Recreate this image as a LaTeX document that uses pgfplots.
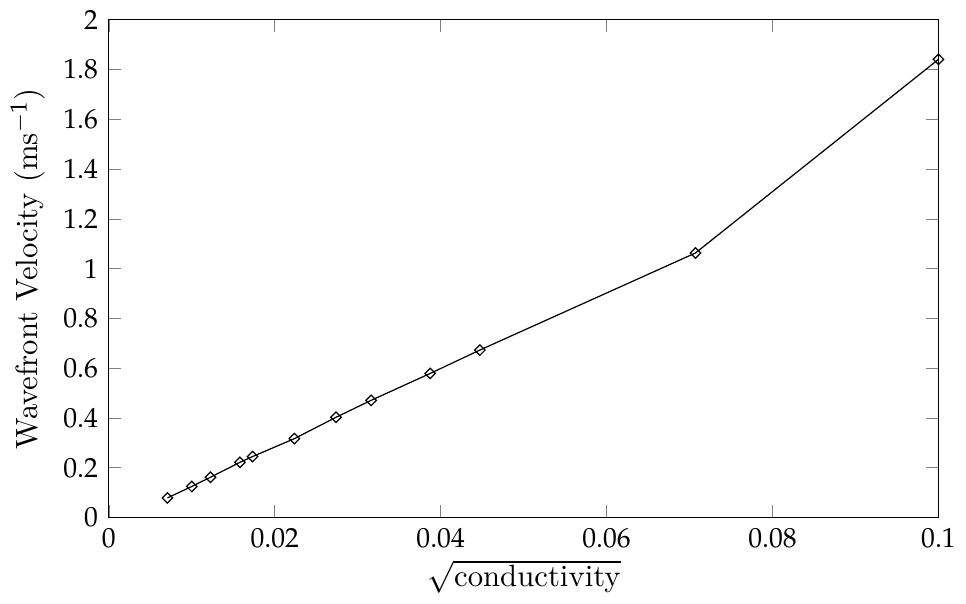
\documentclass[border=0pt]{standalone}
\usepackage{mathpazo}
\usepackage{pgfplots}
\pgfplotsset{compat=1.18}
\begin{document}
\begin{tikzpicture}
\begin{axis}[
  scale only axis,
  width=270pt, height=162pt,
  xmin=0, xmax=0.1, ymin=0, ymax=2,
  xtick={0,0.02,0.04,0.06,0.08,0.1},
  ytick={0,0.2,0.4,0.6,0.8,1,1.2,1.4,1.6,1.8,2},
  scaled x ticks=false,
  tick align=inside,
  major tick length=4pt,
  tick label style={font=\small},
  xticklabel style={/pgf/number format/fixed},
  yticklabel style={/pgf/number format/fixed},
  xlabel={$\sqrt{\mbox{conductivity}}$},
  ylabel={Wavefront Velocity (ms$^{-1}$)},
  xlabel style={yshift=3pt},
  ylabel style={yshift=-1pt},
  axis line style={black},
]
\addplot[black, mark=square, mark size=1.2pt, mark options={solid, rotate=45, fill=white}] coordinates {
(0.00707,0.079)
(0.0100,0.125)
(0.01225,0.162)
(0.0158,0.222)
(0.01732,0.245)
(0.02236,0.317)
(0.02739,0.403)
(0.03162,0.471)
(0.03873,0.579)
(0.04472,0.673)
(0.07071,1.063)
(0.1,1.841)
};
\end{axis}
\end{tikzpicture}
\end{document}
